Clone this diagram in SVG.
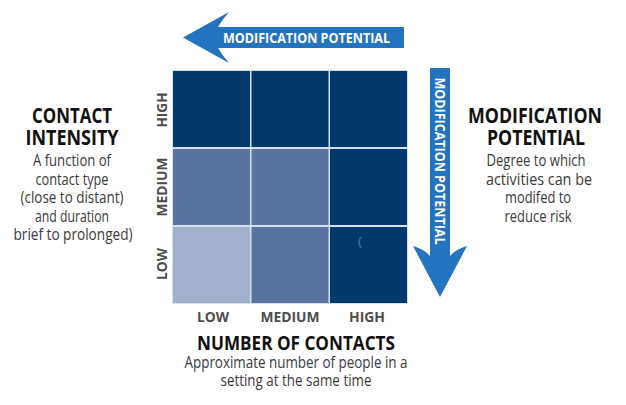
<svg xmlns="http://www.w3.org/2000/svg" width="626" height="405" viewBox="0 0 626 405">
<style>
.dark{fill:#033a6e}
.med{fill:#5b73a0}
.light{fill:#a3b0cb}
.arrow{fill:#2473be}
.atxt{font-family:"Open Sans","Liberation Sans",sans-serif;font-weight:700;font-size:13.5px;fill:#ffffff}
.title{font-family:"Open Sans","Liberation Sans",sans-serif;font-weight:700;font-size:21px;fill:#111111}
.sub{font-family:"Open Sans","Liberation Sans",sans-serif;font-size:16px;fill:#3a3a3a}
.axis{font-family:"Open Sans","Liberation Sans",sans-serif;font-weight:700;font-size:14px;fill:#4d4d4d}
</style>
<rect width="626" height="405" fill="#ffffff"/>
<g id="grid">
<rect x="172" y="70" width="236" height="234" fill="#d3e0ef"/>
<rect class="dark" x="173" y="71" width="77" height="76"/>
<rect class="dark" x="251.5" y="71" width="77" height="76"/>
<rect class="dark" x="330" y="71" width="77" height="76"/>
<rect class="med" x="173" y="149" width="77" height="76"/>
<rect class="med" x="251.5" y="149" width="77" height="76"/>
<rect class="dark" x="330" y="149" width="77" height="76"/>
<rect class="light" x="173" y="227" width="77" height="76"/>
<rect class="med" x="251.5" y="227" width="77" height="76"/>
<rect class="dark" x="330" y="227" width="77" height="76"/>
<text x="358" y="246" font-family="Open Sans, sans-serif" font-size="13" fill="#5a7aa8">(</text>
</g>
<g id="connectors">
<g id="arrow-top">
<path class="arrow" d="M183,37.5 L229,12 Q222,20 218,27 L404,27 L404,48 L218,48 Q222,55 229,63 Z"/>
<text class="atxt" x="306.5" y="42.5" text-anchor="middle" textLength="167" lengthAdjust="spacingAndGlyphs">MODIFICATION POTENTIAL</text>
</g>
<g id="arrow-right">
<path class="arrow" d="M430,68 L450,68 L450,256 Q456,249 467,246 L440,297 L413,246 Q424,249 430,256 Z"/>
<text class="atxt" transform="translate(435,161) rotate(90)" x="0" y="0" text-anchor="middle" textLength="167" lengthAdjust="spacingAndGlyphs">MODIFICATION POTENTIAL</text>
</g>
</g>
<g id="row-labels">
<text class="axis" transform="translate(167,110) rotate(-90)" text-anchor="middle" textLength="35" lengthAdjust="spacingAndGlyphs">HIGH</text>
<text class="axis" transform="translate(167,187) rotate(-90)" text-anchor="middle" textLength="59" lengthAdjust="spacingAndGlyphs">MEDIUM</text>
<text class="axis" transform="translate(167,264) rotate(-90)" text-anchor="middle" textLength="32" lengthAdjust="spacingAndGlyphs">LOW</text>
</g>
<g id="col-labels">
<text class="axis" x="213" y="322" text-anchor="middle" textLength="32" lengthAdjust="spacingAndGlyphs">LOW</text>
<text class="axis" x="290" y="322" text-anchor="middle" textLength="59" lengthAdjust="spacingAndGlyphs">MEDIUM</text>
<text class="axis" x="367" y="322" text-anchor="middle" textLength="36" lengthAdjust="spacingAndGlyphs">HIGH</text>
</g>
<g id="contact-intensity">
<text class="title" x="72" y="123" text-anchor="middle" textLength="80" lengthAdjust="spacingAndGlyphs">CONTACT</text>
<text class="title" x="72" y="145" text-anchor="middle" textLength="93" lengthAdjust="spacingAndGlyphs">INTENSITY</text>
<text class="sub" x="72" y="166" text-anchor="middle" textLength="78" lengthAdjust="spacingAndGlyphs">A function of</text>
<text class="sub" x="72" y="184.5" text-anchor="middle" textLength="73" lengthAdjust="spacingAndGlyphs">contact type</text>
<text class="sub" x="72" y="203" text-anchor="middle" textLength="103" lengthAdjust="spacingAndGlyphs">(close to distant)</text>
<text class="sub" x="72" y="221.5" text-anchor="middle" textLength="74" lengthAdjust="spacingAndGlyphs">and duration</text>
<text class="sub" x="73" y="240" text-anchor="middle" textLength="119" lengthAdjust="spacingAndGlyphs">brief to prolonged)</text>
</g>
<g id="modification-potential">
<text class="title" x="535" y="123" text-anchor="middle" textLength="134" lengthAdjust="spacingAndGlyphs">MODIFICATION</text>
<text class="title" x="536" y="145" text-anchor="middle" textLength="98" lengthAdjust="spacingAndGlyphs">POTENTIAL</text>
<text class="sub" x="536" y="166" text-anchor="middle" textLength="99" lengthAdjust="spacingAndGlyphs">Degree to which</text>
<text class="sub" x="539" y="184.5" text-anchor="middle" textLength="106" lengthAdjust="spacingAndGlyphs">activities can be</text>
<text class="sub" x="538" y="203" text-anchor="middle" textLength="66" lengthAdjust="spacingAndGlyphs">modifed to</text>
<text class="sub" x="538" y="221.5" text-anchor="middle" textLength="67" lengthAdjust="spacingAndGlyphs">reduce risk</text>
</g>
<g id="number-of-contacts">
<text class="title" x="296" y="350" text-anchor="middle" style="font-size:19px" textLength="198" lengthAdjust="spacingAndGlyphs">NUMBER OF CONTACTS</text>
<text class="sub" x="296" y="368" text-anchor="middle" style="font-size:15.5px" textLength="223" lengthAdjust="spacingAndGlyphs">Approximate number of people in a</text>
<text class="sub" x="296" y="386" text-anchor="middle" style="font-size:15.5px" textLength="151" lengthAdjust="spacingAndGlyphs">setting at the same time</text>
</g>
</svg>
